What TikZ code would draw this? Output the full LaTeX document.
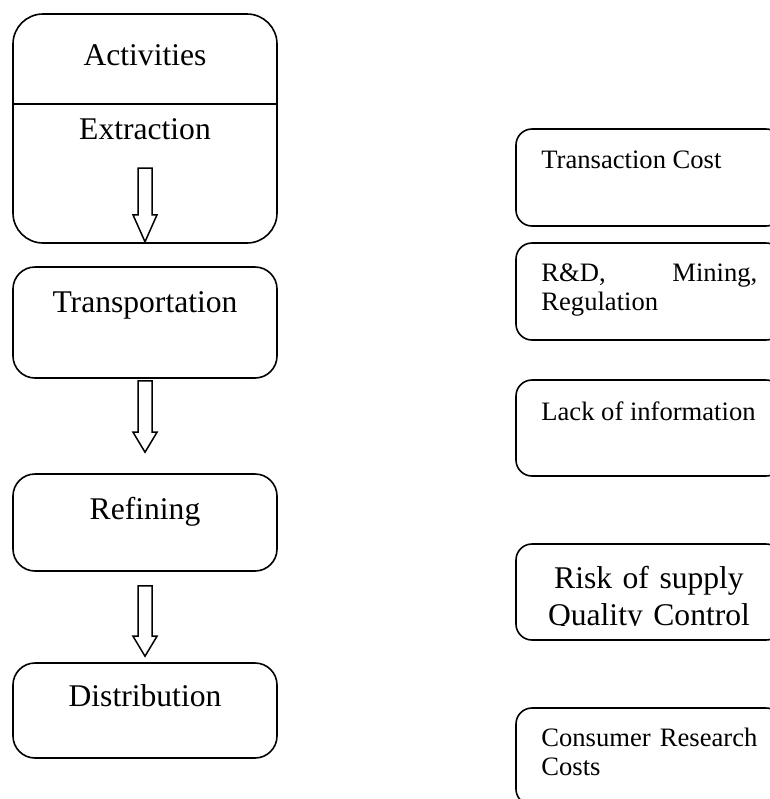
\documentclass[tikz,border=0pt]{standalone}
\usepackage{fontspec}
\setmainfont{Liberation Serif}
\usetikzlibrary{calc,positioning}

% hollow block arrow: #2 = top of the shaft, #3 = tip, #1 = head length
\newcommand{\DownArrow}[3][20]{%
    \draw [line width=0.75pt, fill=white] ($(#2)+(-7,0)$) -- ($(#3)+(-7,-#1)$) -- ($(#3)+(-12,-#1)$) -- (#3) -- ($(#3)+(12,-#1)$) -- ($(#3)+(7,-#1)$) -- ($(#2)+(7,0)$) -- cycle;%
}

\tikzset{
    stage/.style={draw, line width=0.8pt, rounded corners=11pt, minimum width=132pt, inner sep=0pt},
    cost/.style={draw, line width=0.8pt, rounded corners=8pt, minimum width=133pt, minimum height=48.5pt, inner sep=0pt},
    bigtext/.style={font=\fontsize{15.8}{18.5}\selectfont, inner sep=0pt},
    smalltext/.style={font=\fontsize{13.3}{14.3}\selectfont, inner sep=0pt, text width=108pt, align=justify},
}

\begin{document}
\begin{tikzpicture}[x=0.5pt, y=-0.5pt]
	\useasboundingbox (0,0) rectangle (770,799);
	\clip (0,0) rectangle (770,799);

	% supply chain stages
	\node [stage, rounded corners=15pt, minimum height=114.5pt] (act) at (145,128.5) {};
	\draw [line width=0.8pt] (act.west |- 0,104) -- (act.east |- 0,104);
	\node [bigtext, anchor=base] (acttxt) at (145,65) {Activities};
	\node [bigtext, anchor=base] (extxt) at (145,139.3) {Extraction};

	\node [stage, minimum height=55.5pt] (trans) at (145,322.5) {};
	\node [bigtext, anchor=base] (transtxt) at (145,312.3) {Transportation};

	\node [stage, minimum height=48.5pt] (refine) at (145,522.5) {};
	\node [bigtext, anchor=base] (refinetxt) at (145,519.3) {Refining};

	\node [stage, minimum height=47.5pt] (dist) at (145,710.5) {};
	\node [bigtext, anchor=base] (disttxt) at (145,706.7) {Distribution};

	% arrows between the stages
	\coordinate (a1top) at (145,168);
	\coordinate (a1tip) at ($(act.south)+(0,-2)$);
	\coordinate (a2top) at ($(trans.south)+(0,2)$);
	\coordinate (a2tip) at ($(refine.north)+(0,-21)$);
	\coordinate (a3top) at ($(refine.south)+(0,14)$);
	\coordinate (a3tip) at ($(dist.north)+(0,-6)$);
	\DownArrow[27]{a1top}{a1tip}
	\DownArrow{a2top}{a2tip}
	\DownArrow{a3top}{a3tip}

	% cost boxes
	\node [cost] (tc) at (649,177.5) {};
	\node [smalltext, anchor=base west] (tctxt) at (541,168) {Transaction Cost};

	\node [cost] (rd) at (649,291.5) {};
	\node [smalltext, anchor=base west] (rdtxt) at (541,281.7) {R\&D,\hfill Mining,\\Regulation};

	\node [cost, minimum height=48pt] (info) at (649,428) {};
	\node [smalltext, anchor=base west] (infotxt) at (541,420) {Lack of information};

	\node [cost, minimum height=48pt] (risk) at (649,592) {};
	\begin{scope}
		\clip (516,544) rectangle (790,625.5);
		\node [bigtext, anchor=base, text width=108pt, align=center] (risktxt) at (649,588) {Risk of supply\\Quality Control};
	\end{scope}

	\node [cost] (cons) at (649,756.5) {};
	\node [smalltext, anchor=base west] (constxt) at (541,746.7) {Consumer\hfill Research\\Costs};
\end{tikzpicture}
\end{document}
